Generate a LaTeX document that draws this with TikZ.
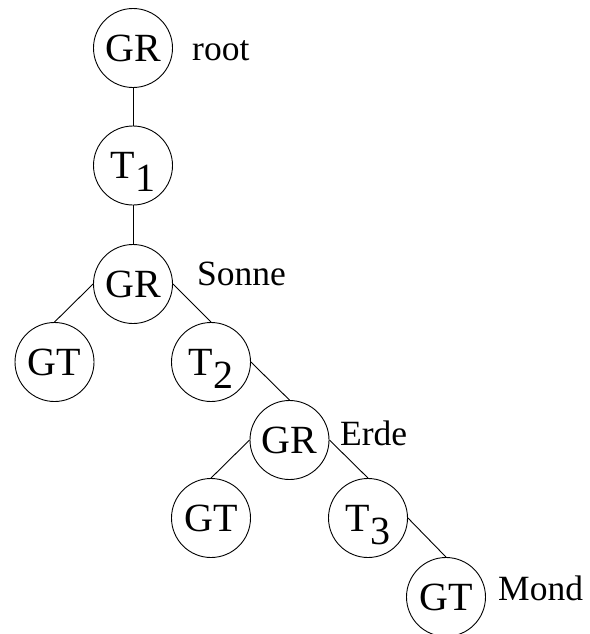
\documentclass[tikz,border=0pt]{standalone}
\usepackage{fontspec}
\setmainfont{Liberation Serif}
\newcommand{\lowsub}[1]{\smash{\raisebox{-0.33em}{#1}}}
\begin{document}
\begin{tikzpicture}[x=1pt,y=-1pt,
  tnode/.style={draw,circle,line width=0.9pt,minimum size=79pt,inner sep=0pt,
    font=\fontsize{40}{41}\selectfont},
  lbl/.style={anchor=base west,inner sep=0pt,font=\fontsize{35.5}{36}\selectfont},
  edge/.style={line width=0.9pt}]
\useasboundingbox (0,0) rectangle (589,634);
\node[tnode] (root) at (133,48) {GR};
\node[tnode] (t1) at (133,165.5) {T\lowsub{1}};
\node[tnode] (sonne) at (133,284) {GR};
\node[tnode] (gt1) at (54.5,362) {GT};
\node[tnode] (t2) at (211,362) {T\lowsub{2}};
\node[tnode] (erde) at (289.5,440) {GR};
\node[tnode] (gt2) at (211,518) {GT};
\node[tnode] (t3) at (368,518) {T\lowsub{3}};
\node[tnode] (mond) at (446,597) {GT};
\node[lbl] (lroot) at (192,60) {root};
\node[lbl] (lsonne) at (197,285) {Sonne};
\node[lbl] (lerde) at (340,445) {Erde};
\node[lbl] (lmond) at (498,600) {Mond};
\draw[edge] (root.south) -- (t1.north);
\draw[edge] (t1.south) -- (sonne.north);
\draw[edge] (sonne.west) -- (gt1.north);
\draw[edge] (sonne.east) -- (t2.north);
\draw[edge] (t2.east) -- (erde.north);
\draw[edge] (erde.west) -- (gt2.north);
\draw[edge] (erde.east) -- (t3.north);
\draw[edge] (t3.east) -- (mond.north);
\end{tikzpicture}
\end{document}
